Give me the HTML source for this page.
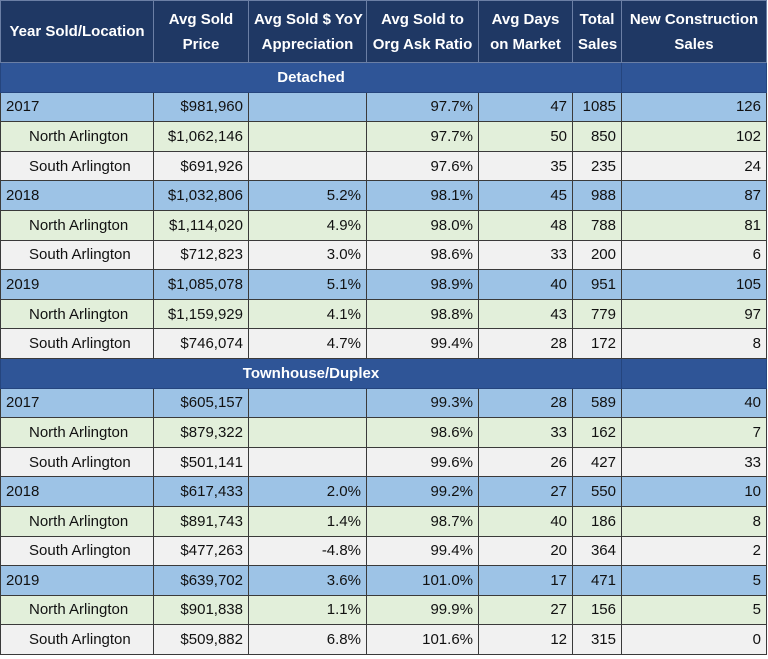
<!DOCTYPE html>
<html><head><meta charset="utf-8"><style>
body{margin:0;background:#fff;width:768px;height:659px;overflow:hidden}
table{position:absolute;left:0;top:0;border-collapse:collapse;table-layout:fixed;width:766px;font-family:"Liberation Sans",sans-serif;font-size:15px;color:#111}
td,th{border:1px solid #3a3a3a;padding:0 5px;height:28.6px;white-space:nowrap;overflow:hidden}
th{background:#1f3864;color:#fff;font-weight:bold;height:61px;line-height:25px;font-size:15px;text-align:center;border-color:#6b7fa5}
td{text-align:right}
td:first-child{text-align:left}
tr.sec td{background:#2f5597;color:#fff;font-weight:bold;text-align:center;border-color:#25457e}
tr.y td{background:#9dc3e6}
tr.n td{background:#e2efda}
tr.n td:first-child,tr.s td:first-child{padding-left:28px}
tr.s td{background:#f1f1f1}
</style></head><body>
<table>
<colgroup><col style="width:153px"><col style="width:95px"><col style="width:118px"><col style="width:112px"><col style="width:94px"><col style="width:49px"><col style="width:145px"></colgroup>
<tr><th>Year Sold/Location</th><th>Avg Sold<br>Price</th><th>Avg Sold $ YoY<br>Appreciation</th><th>Avg Sold to<br>Org Ask Ratio</th><th>Avg Days<br>on Market</th><th>Total<br>Sales</th><th>New Construction<br>Sales</th></tr>
<tr class="sec"><td colspan="6" style="text-align:center">Detached</td><td></td></tr>
<tr class="y"><td>2017</td><td>$981,960</td><td></td><td>97.7%</td><td>47</td><td>1085</td><td>126</td></tr>
<tr class="n"><td>North Arlington</td><td>$1,062,146</td><td></td><td>97.7%</td><td>50</td><td>850</td><td>102</td></tr>
<tr class="s"><td>South Arlington</td><td>$691,926</td><td></td><td>97.6%</td><td>35</td><td>235</td><td>24</td></tr>
<tr class="y"><td>2018</td><td>$1,032,806</td><td>5.2%</td><td>98.1%</td><td>45</td><td>988</td><td>87</td></tr>
<tr class="n"><td>North Arlington</td><td>$1,114,020</td><td>4.9%</td><td>98.0%</td><td>48</td><td>788</td><td>81</td></tr>
<tr class="s"><td>South Arlington</td><td>$712,823</td><td>3.0%</td><td>98.6%</td><td>33</td><td>200</td><td>6</td></tr>
<tr class="y"><td>2019</td><td>$1,085,078</td><td>5.1%</td><td>98.9%</td><td>40</td><td>951</td><td>105</td></tr>
<tr class="n"><td>North Arlington</td><td>$1,159,929</td><td>4.1%</td><td>98.8%</td><td>43</td><td>779</td><td>97</td></tr>
<tr class="s"><td>South Arlington</td><td>$746,074</td><td>4.7%</td><td>99.4%</td><td>28</td><td>172</td><td>8</td></tr>
<tr class="sec"><td colspan="6" style="text-align:center">Townhouse/Duplex</td><td></td></tr>
<tr class="y"><td>2017</td><td>$605,157</td><td></td><td>99.3%</td><td>28</td><td>589</td><td>40</td></tr>
<tr class="n"><td>North Arlington</td><td>$879,322</td><td></td><td>98.6%</td><td>33</td><td>162</td><td>7</td></tr>
<tr class="s"><td>South Arlington</td><td>$501,141</td><td></td><td>99.6%</td><td>26</td><td>427</td><td>33</td></tr>
<tr class="y"><td>2018</td><td>$617,433</td><td>2.0%</td><td>99.2%</td><td>27</td><td>550</td><td>10</td></tr>
<tr class="n"><td>North Arlington</td><td>$891,743</td><td>1.4%</td><td>98.7%</td><td>40</td><td>186</td><td>8</td></tr>
<tr class="s"><td>South Arlington</td><td>$477,263</td><td>-4.8%</td><td>99.4%</td><td>20</td><td>364</td><td>2</td></tr>
<tr class="y"><td>2019</td><td>$639,702</td><td>3.6%</td><td>101.0%</td><td>17</td><td>471</td><td>5</td></tr>
<tr class="n"><td>North Arlington</td><td>$901,838</td><td>1.1%</td><td>99.9%</td><td>27</td><td>156</td><td>5</td></tr>
<tr class="s"><td>South Arlington</td><td>$509,882</td><td>6.8%</td><td>101.6%</td><td>12</td><td>315</td><td>0</td></tr>
</table>
</body></html>
